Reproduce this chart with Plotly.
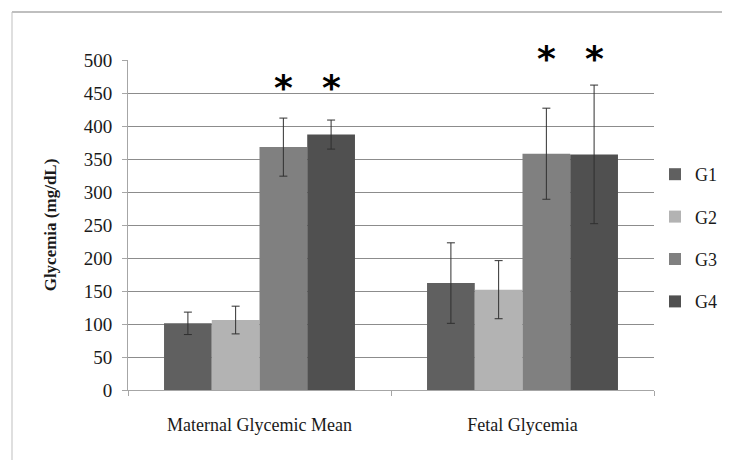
import plotly.graph_objects as go

categories = ["Maternal Glycemic Mean", "Fetal Glycemia"]
groups = ["G1", "G2", "G3", "G4"]
g1_values = [101, 162]
g2_values = [106, 152]
g3_values = [368, 358]
g4_values = [387, 357]
g1_err = [17, 61]
g2_err = [21, 44]
g3_err = [44, 69]
g4_err = [22, 105]
colors = ["#606060", "#b3b3b3", "#808080", "#505050"]
star_groups = ["G3", "G4"]
star_heights = [465, 508]
y_ticks = [0, 50, 100, 150, 200, 250, 300, 350, 400, 450, 500]

values = [g1_values, g2_values, g3_values, g4_values]
errors = [g1_err, g2_err, g3_err, g4_err]

FONT = "Liberation Serif"
bargap = 0.274
YMAX = 500

# page body has an 8px margin; figure sized so the page does not scroll
W, H = 714, 452
ML, MT, PW, PH = 120, 52, 526, 330

fig = go.Figure()
for name, v, e, c in zip(groups, values, errors, colors):
    fig.add_trace(go.Bar(
        x=categories, y=v, name=name, legendgroup=name,
        marker=dict(color=c, line=dict(width=0)),
        error_y=dict(type="data", array=e, visible=True, color="#303030",
                     thickness=1, width=4),
    ))

bw = (1 - bargap) / len(groups)
annotations = []
for ci, h in enumerate(star_heights):
    for g in star_groups:
        gi = groups.index(g)
        xpos = ci + (gi - (len(groups) - 1) / 2) * bw
        annotations.append(dict(x=xpos, y=h / YMAX, xref="x", yref="paper", text="<b>*</b>",
                                showarrow=False, font=dict(family="DejaVu Sans", size=36, color="#000"),
                                yanchor="middle", yshift=-4))

bx = (4 - ML) / PW
by = (MT + PH - 4) / PH
fig.update_layout(
    width=W, height=H,
    margin=dict(l=ML, r=W - ML - PW, t=MT, b=H - MT - PH, autoexpand=False),
    paper_bgcolor="white", plot_bgcolor="white",
    barmode="group", bargap=bargap, bargroupgap=0,
    font=dict(family=FONT, size=17, color="#1a1a1a"),
    showlegend=True,
    legend=dict(x=(647 - ML) / PW, y=(MT + PH - 148) / PH, xanchor="left", yanchor="top",
                font=dict(family=FONT, size=18), tracegroupgap=16,
                itemwidth=30, bgcolor="rgba(0,0,0,0)"),
    annotations=annotations,
    shapes=[
        dict(type="line", xref="paper", yref="paper", x0=bx, x1=1.3, y0=by, y1=by,
             line=dict(color="#bfbfbf", width=2)),
        dict(type="line", xref="paper", yref="paper", x0=bx, x1=bx, y0=by, y1=-0.5,
             line=dict(color="#bfbfbf", width=1)),
    ],
)
fig.update_yaxes(
    range=[0, YMAX], tickvals=y_ticks, showgrid=True, gridcolor="#8c8c8c", gridwidth=1,
    showline=True, linecolor="#a6a6a6", linewidth=1, ticks="outside", ticklen=5,
    tickcolor="#a6a6a6", ticklabelstandoff=6, zeroline=False, automargin=False,
    title=dict(text="<b>Glycemia (mg/dL)</b>", font=dict(family=FONT, size=17), standoff=22),
    tickfont=dict(family=FONT, size=19),
)
fig.update_xaxes(
    showline=True, linecolor="#a6a6a6", linewidth=1, ticks="outside", ticklen=5,
    tickcolor="#a6a6a6", tickson="boundaries", ticklabelstandoff=18, automargin=False,
    tickfont=dict(family=FONT, size=18), range=[-0.5, 1.5],
)
fig.write_html("out.html")
